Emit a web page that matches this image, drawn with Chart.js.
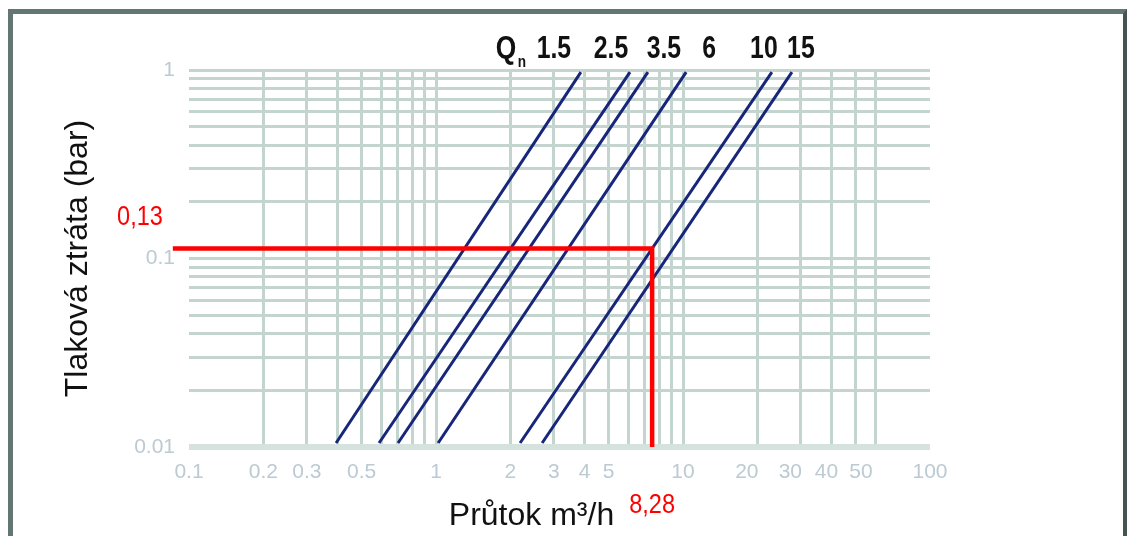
<!DOCTYPE html>
<html lang="cs">
<head>
<meta charset="utf-8">
<title>Tlaková ztráta</title>
<script src="https://cdn.jsdelivr.net/npm/chart.js@4/dist/chart.umd.min.js"></script>
<style>
	body { margin: 0; background: #fff; }
	#wrap { position: relative; width: 1127px; height: 536px; overflow: hidden; background: #fff; }
	#frame {
		position: absolute; left: 8px; top: 9px; right: 0; height: 600px; box-sizing: border-box;
		border-top: 5px solid #637674; border-left: 5px solid #637674; border-right: 4px solid #445453;
	}
</style>
</head>
<body>
<div id="wrap">
	<canvas id="pressure-chart" width="1127" height="536"></canvas>
	<div id="frame"></div>
</div>
<script>
// Pressure loss of the meter sizes Qn 1.5 - 15
const qnLabels = ['1.5', '2.5', '3.5', '6', '10', '15'];
// flow in m3/h where each line leaves the bottom (0.01 bar) and reaches the top of the grid
const flowLow  = [0.394, 0.588, 0.702, 1.02, 2.19, 2.69];
const flowHigh = [3.86, 6.10, 7.21, 10.3, 22.9, 27.6];
const lossLow  = 0.0105;
const lossHigh = 0.975;

// red reading drawn into the chart
const readStart  = 0.086;
const readFlow   = 7.5;
const readLoss   = 0.113;
const readLabels = ['0,13', '8,28'];

const xTicks  = [0.1, 0.2, 0.3, 0.4, 0.5, 0.6, 0.7, 0.8, 0.9, 1, 2, 3, 4, 5, 6, 7, 8, 9, 10, 20, 30, 40, 50, 60, 100];
const xLabels = [0.1, 0.2, 0.3, 0.5, 1, 2, 3, 4, 5, 10, 20, 30, 40, 50, 100];
const xNoGrid = [0.1, 100];
const yTicks  = [0.01, 0.02, 0.03, 0.04, 0.05, 0.06, 0.07, 0.08, 0.09, 0.1, 0.2, 0.3, 0.4, 0.5, 0.6, 0.7, 0.8, 0.9, 1];
const yLabels = [0.01, 0.1, 1];

const sans = "'Liberation Sans', Arial, sans-serif";
const gridColor = '#c4d5cf';
const tickColor = '#bccad3';

let datasets = [{
	label: 'odečet',
	data: [
		{ x: readStart, y: readLoss },
		{ x: readFlow, y: readLoss },
		{ x: readFlow, y: 0.01 }
	],
	borderColor: '#ff0000',
	borderWidth: 4.5,
	clip: false,
	order: 0
}];
qnLabels.forEach(function (label, i) {
	datasets.push({
		label: 'Qn ' + label,
		data: [{ x: flowLow[i], y: lossLow }, { x: flowHigh[i], y: lossHigh }],
		borderColor: '#172679',
		borderWidth: 3,
		order: 1
	});
});

// the top decade labels crowd on a log axis, pad them with en spaces
// (negative = moved left, positive = moved right)
const labelPad = { 20: -2, 30: -2, 40: -1, 50: 1 };
function xTickText(v) {
	if (!xLabels.includes(v)) return '';
	let pad = labelPad[v] || 0;
	let sp = '\u2002'.repeat(Math.abs(pad));
	return pad < 0 ? String(v) + sp : sp + String(v);
}

// condensed text, the original uses a narrow face
function narrowText(ctx, text, x, y, squeeze) {
	ctx.save();
	ctx.translate(x, y);
	ctx.scale(squeeze, 1);
	ctx.fillText(text, 0, 0);
	ctx.restore();
}

// texts that sit outside the axes: Qn captions, x title and the red values
const chartText = {
	id: 'chartText',
	afterDraw(chart) {
		const { ctx, chartArea: area, scales: { x, y } } = chart;
		const nudge = [-27, -19, 16, 23, -8, 9];
		ctx.save();
		ctx.textBaseline = 'alphabetic';
		ctx.textAlign = 'center';
		ctx.fillStyle = '#111';

		ctx.font = 'bold 31px ' + sans;
		qnLabels.forEach(function (label, i) {
			narrowText(ctx, label, x.getPixelForValue(flowHigh[i]) + nudge[i], area.top - 12, 0.8);
		});
		let first = x.getPixelForValue(flowHigh[0]) + nudge[0];
		narrowText(ctx, 'Q', first - 48, area.top - 12, 0.85);
		ctx.font = 'bold 17px ' + sans;
		narrowText(ctx, 'n', first - 32, area.top - 3, 0.8);

		ctx.font = '32px ' + sans;
		ctx.fillText('Průtok m³/h', (area.left + area.right) / 2 - 28, area.bottom + 78);

		ctx.fillStyle = '#ff0000';
		ctx.font = '28px ' + sans;
		narrowText(ctx, readLabels[0], area.left - 49, y.getPixelForValue(readLoss) - 23, 0.84);
		narrowText(ctx, readLabels[1], x.getPixelForValue(readFlow), area.bottom + 66, 0.84);
		ctx.restore();
	}
};

new Chart(document.getElementById('pressure-chart'), {
	type: 'scatter',
	data: { datasets: datasets },
	options: {
		responsive: false,
		animation: false,
		showLine: true,
		elements: { point: { radius: 0 } },
		layout: { padding: { left: 55, top: 70, right: 197, bottom: 0 } },
		plugins: { legend: { display: false }, tooltip: { enabled: false } },
		scales: {
			x: {
				type: 'logarithmic',
				min: 0.1,
				max: 100,
				afterBuildTicks: s => { s.ticks = xTicks.map(v => ({ value: v })); },
				afterFit: s => { s.height = 89; },
				border: { display: false },
				grid: {
					drawTicks: false,
					lineWidth: 3,
					color: c => (c.tick && xNoGrid.includes(c.tick.value)) ? 'rgba(0,0,0,0)' : gridColor
				},
				ticks: {
					autoSkip: false,
					maxRotation: 0,
					minRotation: 0,
					padding: 13,
					color: tickColor,
					font: { family: sans, size: 21 },
					callback: xTickText
				}
			},
			y: {
				type: 'logarithmic',
				min: 0.01,
				max: 1,
				afterBuildTicks: s => { s.ticks = yTicks.map(v => ({ value: v })); },
				afterFit: s => { s.width = 134; },
				border: { display: false },
				grid: {
					drawTicks: false,
					lineWidth: c => (c.tick && c.tick.value === 0.01) ? 6 : 3,
					color: c => (c.tick && c.tick.value === 0.01) ? '#d6e2de' : gridColor
				},
				ticks: {
					autoSkip: false,
					padding: 14,
					color: tickColor,
					font: { family: sans, size: 21 },
					callback: v => yLabels.includes(v) ? String(v) : ''
				},
				title: {
					display: true,
					text: 'Tlaková ztráta (bar)',
					color: '#111',
					font: { family: sans, size: 32 }
				}
			}
		}
	},
	plugins: [chartText]
});
</script>
</body>
</html>
